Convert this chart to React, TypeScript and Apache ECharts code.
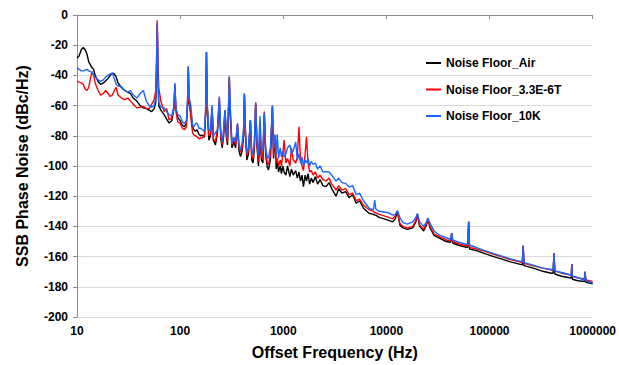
import React, { useEffect, useRef } from "react";
import * as echarts from "echarts";

const seriesNames = ["Noise Floor_Air", "Noise Floor_3.3E-6T", "Noise Floor_10K"];

const freqHz = [
  10, 10.5, 11, 11.5, 12, 12.5, 13, 13.5, 14, 14.5,
  15, 16, 17, 18, 19, 20, 21, 22, 23, 24,
  25, 27, 29, 31, 33, 35, 38, 41, 44, 47,
  50, 53, 56, 58, 59, 60, 61, 62, 65, 70,
  74, 78, 83, 87, 89, 91, 95, 100, 105, 110,
  115, 118, 120, 122, 127, 132, 136, 141, 146, 152,
  158, 164, 172, 177, 180, 183, 190, 197, 204, 210,
  220, 230, 240, 248, 256, 264, 272, 280, 288, 296,
  300, 304, 318, 332, 345, 360, 372, 385, 400, 412,
  420, 430, 444, 460, 480, 495, 510, 525, 540, 555,
  575, 595, 615, 635, 655, 675, 700, 720, 750, 785,
  805, 830, 855, 875, 900, 935, 960, 990, 1020, 1060,
  1100, 1160, 1200, 1250, 1320, 1370, 1420, 1470, 1520, 1570,
  1630, 1680, 1740, 1800, 1870, 1950, 2050, 2150, 2280, 2420,
  2600, 2780, 2950, 3250, 3450, 3700, 4030, 4350, 4700, 5100,
  5500, 6000, 6800, 7500, 7700, 7900, 8500, 9500, 10500, 11500,
  12200, 12800, 13500, 14500, 16000, 18000, 19300, 20000, 21000, 23000,
  24500, 25200, 26500, 29000, 33000, 38000, 42000, 43000, 44000, 50000,
  57000, 61500, 62800, 64000, 75000, 90000, 110000, 130000, 160000, 195000,
  208000, 212000, 216000, 260000, 320000, 400000, 414000, 422000, 430000, 500000,
  600000, 620000, 628000, 636000, 720000, 830000, 844000, 860000, 1000000,
];

const noiseAir = [
  -28.5, -27, -23, -21.5, -23, -26, -31, -33, -35, -36,
  -40, -44, -46, -45, -43.5, -42, -40, -38.5, -39, -41,
  -45, -48, -50, -51, -52, -55, -57, -60, -61.5, -62,
  -63, -64, -62, -58, -40, -6, -40, -60, -63, -66,
  -69, -71.5, -70, -62, -47.5, -62, -68, -70, -73, -74,
  -72, -60, -36, -58, -65, -74, -76, -77, -76, -79,
  -80, -79.5, -81, -65, -25, -62, -83, -80, -62, -83,
  -86, -78, -57, -82, -88, -80, -64, -80, -86, -60,
  -41.5, -62, -88, -84, -88, -73, -90, -93.8, -90, -80,
  -53, -80, -96, -92, -70, -96, -98, -88, -59, -86,
  -100, -80, -96, -98, -66, -92, -101, -102.6, -96, -61,
  -95, -80, -102, -96, -104, -100, -105, -100, -104, -106,
  -100, -107, -102, -106, -103, -108, -104, -110, -106, -113.7,
  -106, -110, -105, -112, -108, -111, -107, -112, -109, -113,
  -113.7, -111, -115, -120, -115, -118, -117, -121, -119, -124.7,
  -123, -128, -131.3, -132, -132.5, -132.5, -134, -135, -136, -137,
  -135, -130, -139, -141, -142, -141, -137, -132, -140, -143,
  -139, -135, -141, -146, -148, -150, -150.5, -144.5, -151, -152.5,
  -153.5, -154, -137, -155, -156, -158, -160, -161.5, -163.5, -165,
  -165.5, -152.8, -166, -167.5, -169.5, -171, -171, -157.8, -171.5, -173,
  -174, -174.5, -165, -175, -176, -176.5, -170, -177, -178,
];

const noise33E6T = [
  -44, -44.5, -45, -46, -49, -50, -48, -42, -37.5, -40,
  -45, -50, -53, -52, -50, -52, -54, -53, -50, -48,
  -53, -55, -56, -55, -57, -59, -61.5, -61, -60.5, -62,
  -62, -59, -56, -50, -30, -3.5, -30, -48, -57, -64,
  -62, -69.5, -68, -62, -46, -64, -71, -71.6, -75, -76,
  -74, -58, -34, -56, -68, -78, -79.5, -80, -80.6, -82,
  -81.5, -81.5, -80, -64, -24.5, -60, -80, -79, -61, -82,
  -84, -76, -55, -81, -86, -78, -63, -78, -84, -55,
  -40.5, -60, -86, -82, -86, -72, -87, -91, -88, -78,
  -52, -78, -93, -90, -69.5, -94, -95, -86, -58, -84,
  -97, -78, -94, -96, -64, -90, -98, -99, -93, -60,
  -93, -80, -98, -95, -100, -96, -100, -92, -82.8, -98,
  -95, -100, -88, -96, -98, -94, -74, -96, -100, -103,
  -92, -80.6, -98, -104, -103, -106, -104, -108, -106, -109,
  -110, -108, -112, -116, -113, -116, -115, -119, -118, -123,
  -122, -126, -129, -130, -131, -131, -132, -133, -134, -135,
  -133, -130, -138, -140, -141, -140, -136, -132, -139, -142,
  -138, -135, -140, -145, -147, -149, -149.5, -144.5, -150, -151.5,
  -152.5, -153, -137, -154, -155, -156.5, -158.5, -160, -162, -163.5,
  -164, -152.8, -164.5, -166, -167.5, -169, -169, -157.8, -169.5, -171,
  -172, -172.5, -165, -173, -174, -175, -170, -175.5, -176.5,
];

const noise10K = [
  -35, -36, -37, -37, -36.5, -36, -37, -37.5, -38, -39.5,
  -41, -43, -44, -43, -41, -40, -39, -38.5, -42, -46,
  -47, -47.5, -50, -51, -50, -53, -55, -52, -50, -57,
  -60, -61, -60, -55, -35, -5, -40, -58, -61, -61.5,
  -64, -66, -67, -60, -45, -62, -66, -67, -70.6, -72,
  -70, -56, -34, -54, -60, -73, -74, -72, -71.6, -75,
  -75, -76, -77, -60, -24.3, -58, -76, -77, -59.6, -80,
  -78, -76, -54, -78, -84, -76, -63, -75, -82, -55,
  -40.8, -56, -85, -81, -84, -71.7, -86, -89.4, -84, -76,
  -52, -76, -91.5, -88, -69.5, -90, -92, -84, -58, -82,
  -93, -67, -90, -88, -65, -88, -95, -94, -88, -60,
  -88, -79, -92, -79, -95, -88, -94, -90, -94, -92,
  -88, -86, -92, -90, -84, -96, -92, -98, -94, -100,
  -96, -98, -95, -100, -97, -99, -98, -102, -100, -104,
  -103.7, -104, -106, -110, -108, -111, -111.5, -114, -113, -119,
  -118, -123, -128, -129, -122.5, -128.5, -130, -130.5, -131, -132.5,
  -132, -129.5, -134, -137.5, -138.5, -137, -134, -131.5, -137, -140,
  -137, -134.5, -138, -143, -146, -147.5, -148.5, -144.5, -149, -150.5,
  -151.5, -152, -137, -152.5, -154, -156, -158, -159.5, -161.5, -163,
  -163.4, -152.8, -164, -165.5, -167.5, -168.5, -169, -157.8, -169.5, -170.5,
  -172, -172.5, -165, -173, -174, -175.5, -170, -176, -177.5,
];

const seriesColors = ["#000000", "#ff0000", "#1a66ff"];

export default function App() {
  const ref = useRef<HTMLDivElement>(null);
  useEffect(() => {
    if (!ref.current) return;
    const chart = echarts.init(ref.current, null, { renderer: "svg" });
    const font = '"Liberation Sans", Arial, Helvetica, sans-serif';
    const values = [noiseAir, noise33E6T, noise10K];
    const axisGray = "#8c8c8c";
    chart.setOption({
      animation: false,
      backgroundColor: "#ffffff",
      textStyle: { fontFamily: font },
      grid: { left: 77, right: 23, top: 15, bottom: 48 },
      legend: {
        data: seriesNames,
        orient: "vertical",
        left: 421,
        top: 51,
        icon: "rect",
        itemWidth: 15,
        itemHeight: 2,
        itemGap: 12.5,
        textStyle: { fontFamily: font, fontSize: 12, fontWeight: "bold", color: "#000", lineHeight: 14 },
      },
      xAxis: [
        {
          type: "log",
          logBase: 10,
          min: 10,
          max: 1000000,
          position: "bottom",
          axisLine: { show: false },
          axisTick: { show: false },
          splitLine: { show: false },
          axisLabel: {
            formatter: (v: number) => String(Math.round(v)),
            fontSize: 12,
            fontWeight: "bold",
            color: "#000",
            fontFamily: font,
            margin: 8,
          },
          name: "Offset Frequency (Hz)",
          nameLocation: "middle",
          nameGap: 27,
          nameTextStyle: { fontSize: 16, fontWeight: "bold", color: "#000", fontFamily: font },
        },
        {
          type: "log",
          logBase: 10,
          min: 10,
          max: 1000000,
          position: "top",
          axisLine: { show: true, lineStyle: { color: axisGray, width: 1 } },
          axisTick: { show: true, inside: true, length: 4, lineStyle: { color: axisGray } },
          axisLabel: { show: false },
          splitLine: { show: false },
        },
      ],
      yAxis: {
        type: "value",
        min: -200,
        max: 0,
        interval: 20,
        axisLine: { show: true, lineStyle: { color: axisGray, width: 1 } },
        axisTick: { show: true, length: 4, lineStyle: { color: axisGray } },
        splitLine: { show: true, lineStyle: { color: "#d9d9d9", width: 1 } },
        axisLabel: { fontSize: 12, fontWeight: "bold", color: "#000", fontFamily: font, margin: 9 },
        name: "SSB Phase Noise (dBc/Hz)",
        nameLocation: "middle",
        nameGap: 47,
        nameTextStyle: { fontSize: 16, fontWeight: "bold", color: "#000", fontFamily: font },
      },
      series: seriesNames.map((name, k) => ({
        name,
        type: "line",
        symbol: "none",
        showSymbol: false,
        color: seriesColors[k],
        lineStyle: { color: seriesColors[k], width: 1.4 },
        data: freqHz.map((f, i) => [f, values[k][i]]),
      })),
    });
    return () => chart.dispose();
  }, []);
  return <div ref={ref} style={{ position: "fixed", left: 0, top: 0, width: 619, height: 365 }} />;
}
